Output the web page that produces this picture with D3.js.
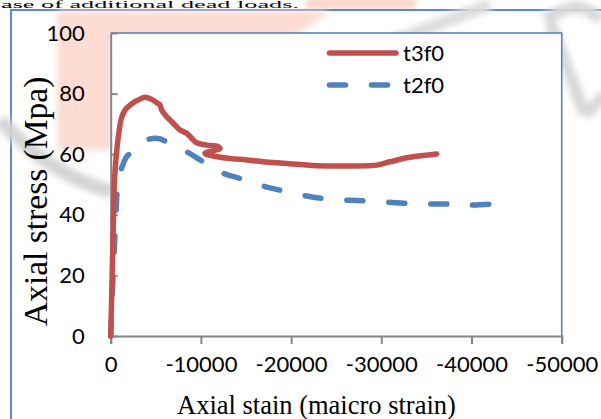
<!DOCTYPE html>
<html>
<head>
<meta charset="utf-8">
<script src="https://cdn.jsdelivr.net/npm/d3@7"></script>
<style>
  html, body { margin: 0; padding: 0; background: #fff; }
  svg { display: block; }
</style>
</head>
<body>
<div id="chart"></div>
<script>
// Data (strain in micro strain, stress in MPa)
const t3f0Strain = [0, -100, -200, -300, -400, -520, -700, -950, -1150, -1400, -1700, -2140, -2600, -3060, -3800, -4540, -5100, -5470, -5650, -6200, -6940, -7680, -8420, -9160, -9530, -10640, -11750, -12120, -10450, -11370, -13230, -15080, -16920, -19130, -22840, -26530, -29490, -30960, -33180, -36140];
const t3f0Stress = [0, 12, 25, 38, 50, 56, 62, 68, 71.5, 73.5, 75, 76.2, 77.2, 77.9, 78.8, 78.1, 77, 76.2, 74.6, 72.4, 70.2, 68, 66.9, 64.7, 63.8, 63, 62.7, 61.9, 60.3, 59.4, 58.6, 58.1, 57.5, 57, 56.2, 56.1, 56.4, 57.5, 59, 60.1];

const t2f0Strain = [0, -150, -370, -590, -700, -1000, -1330, -1770, -2140, -3000, -4170, -5280, -6200, -7300, -8420, -10270, -12490, -14330, -16920, -18960, -21180, -23400, -25790, -28190, -30410, -32820, -35040, -37620, -39840, -42060];
const t2f0Stress = [0, 12, 27, 40, 47, 53, 56.4, 59.2, 60.3, 63, 64.9, 65.2, 64.1, 62.5, 60.8, 57.5, 53.7, 52, 49.5, 48, 46.5, 45.4, 44.9, 44.6, 44.2, 43.8, 43.6, 43.5, 43.2, 43.5];

const xTicks = [0, -10000, -20000, -30000, -40000, -50000];
const yTicks = [0, 20, 40, 60, 80, 100];

const seriesNames = ['t3f0', 't2f0'];
const seriesColors = ['#c0504d', '#4f81bd'];

const width = 601, height = 419;
const plot = { left: 110.7, right: 561.7, top: 33, bottom: 336 };
const serif = '"Liberation Serif", "Times New Roman", serif';
const tickFont = 'Lato, "Open Sans", sans-serif';

const svg = d3.select('#chart').append('svg')
	.attr('width', width)
	.attr('height', height);

const defs = svg.append('defs');
defs.append('filter').attr('id', 'soft')
	.attr('x', '-20%').attr('y', '-20%').attr('width', '140%').attr('height', '140%')
	.append('feGaussianBlur').attr('stdDeviation', 3);

svg.append('rect').attr('width', width).attr('height', height).attr('fill', '#fff');

// Page text just above the figure
svg.append('rect')
	.attr('x', 306).attr('y', -2).attr('width', 110).attr('height', 11)
	.attr('fill', '#fbd3c7').attr('filter', 'url(#soft)');
svg.append('text')
	.attr('x', 1).attr('y', 8)
	.attr('textLength', 298)
	.attr('lengthAdjust', 'spacingAndGlyphs')
	.style('font-family', serif)
	.style('font-size', '10px')
	.text('ase of additional dead loads.');

// Outer frame
svg.append('rect')
	.attr('x', 11).attr('y', 10).attr('width', 640).attr('height', 440)
	.attr('fill', '#fff')
	.attr('stroke', '#5b89c4').attr('stroke-width', 2);

// Faint watermark behind the chart
const mark = svg.append('g').attr('filter', 'url(#soft)');
mark.append('path')
	.attr('d', 'M57,11 L330,11 L300,33 L200,80 L120,150 L57,150 Z')
	.attr('fill', '#fcdcd3');
mark.append('path')
	.attr('d', 'M0,120 Q50,175 112,192')
	.attr('fill', 'none').attr('stroke', '#d4d4d4').attr('stroke-width', 14);
mark.append('path')
	.attr('d', 'M395,40 L490,5')
	.attr('fill', 'none').attr('stroke', '#dcdcdc').attr('stroke-width', 12);
mark.append('path')
	.attr('d', 'M545,20 Q580,-5 600,20 M550,22 L585,115 M585,115 Q600,100 605,95')
	.attr('fill', 'none').attr('stroke', '#d8d8d8').attr('stroke-width', 12);

// Scales
const x = d3.scaleLinear().domain([0, -50000]).range([plot.left, plot.right]);
const y = d3.scaleLinear().domain([0, 100]).range([plot.bottom, plot.top]);

// Plot area
svg.append('rect')
	.attr('x', plot.left).attr('y', plot.top)
	.attr('width', plot.right - plot.left).attr('height', plot.bottom - plot.top)
	.attr('fill', '#fff');
svg.append('path')
	.attr('d', `M${plot.left},${plot.top}H${plot.right}V${plot.bottom}`)
	.attr('fill', 'none').attr('stroke', '#4a7ebb').attr('stroke-width', 1.5);

// X axis
const xAxis = svg.append('g')
	.attr('transform', `translate(0,${plot.bottom})`)
	.call(d3.axisBottom(x).tickValues(xTicks).tickSize(8).tickPadding(12).tickFormat(d => d === 0 ? '0' : String(d)));
xAxis.select('.domain').attr('stroke', '#878787').attr('stroke-width', 2);
xAxis.selectAll('.tick line').attr('stroke', '#878787').attr('stroke-width', 2);
xAxis.selectAll('.tick text')
	.attr('fill', '#000')
	.style('font-family', tickFont)
	.style('font-size', '22px');

// Y axis (ticks point inward)
const yAxis = svg.append('g')
	.attr('transform', `translate(${plot.left},0)`)
	.call(d3.axisLeft(y).tickValues(yTicks).tickSizeInner(-7).tickSizeOuter(0).tickPadding(26));
yAxis.select('.domain').attr('stroke', '#878787').attr('stroke-width', 2);
yAxis.selectAll('.tick line').attr('stroke', '#878787').attr('stroke-width', 2);
yAxis.selectAll('.tick text')
	.attr('fill', '#000')
	.style('font-family', tickFont)
	.style('font-size', '22px');

// Series
const line = d3.line()
	.x(d => x(d[0]))
	.y(d => y(d[1]))
	.curve(d3.curveCatmullRom.alpha(0.5));

const t3f0 = d3.zip(t3f0Strain, t3f0Stress);
const t2f0 = d3.zip(t2f0Strain, t2f0Stress);

svg.append('path')
	.datum(t2f0)
	.attr('d', line)
	.attr('fill', 'none')
	.attr('stroke', seriesColors[1])
	.attr('stroke-width', 5.5)
	.attr('stroke-linecap', 'round')
	.attr('stroke-dasharray', '16,26');

svg.append('path')
	.datum(t3f0)
	.attr('d', line)
	.attr('fill', 'none')
	.attr('stroke', seriesColors[0])
	.attr('stroke-width', 5.5)
	.attr('stroke-linecap', 'round')
	.attr('stroke-linejoin', 'round');

// Legend
const legend = svg.append('g');
seriesNames.forEach((name, i) => {
	const ly = 53 + i * 32;
	legend.append('line')
		.attr('x1', 329.5).attr('x2', 396).attr('y1', ly).attr('y2', ly)
		.attr('stroke', seriesColors[i])
		.attr('stroke-width', 5.5)
		.attr('stroke-linecap', 'round')
		.attr('stroke-dasharray', i === 1 ? '16,26' : null);
	legend.append('text')
		.attr('x', 403).attr('y', ly + 8)
		.style('font-family', tickFont)
		.style('font-size', '22px')
		.text(name);
});

// Axis titles
svg.append('text')
	.attr('transform', 'translate(47,326) rotate(-90)')
	.style('font-family', serif)
	.style('font-size', '33.5px')
	.text('Axial stress (Mpa)');

svg.append('text')
	.attr('x', 177).attr('y', 414)
	.style('font-family', serif)
	.style('font-size', '26.5px')
	.text('Axial stain (maicro strain)');
</script>
</body>
</html>
